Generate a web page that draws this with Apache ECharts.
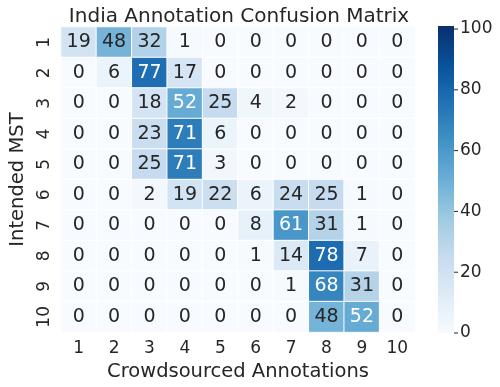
<!DOCTYPE html>
<html>
<head>
<meta charset="utf-8">
<title>India Annotation Confusion Matrix</title>
<style>
  html, body { margin: 0; padding: 0; background: #fff; }
  #chart { width: 500px; height: 387px; }
</style>
</head>
<body>
<div id="chart"></div>
<script src="https://cdn.jsdelivr.net/npm/echarts@6/dist/echarts.min.js"></script>
<script>
// categories
var xLabels = ['1', '2', '3', '4', '5', '6', '7', '8', '9', '10'];
var yLabels = ['1', '2', '3', '4', '5', '6', '7', '8', '9', '10'];

// one row per intended MST
var row1  = [19, 48, 32, 1, 0, 0, 0, 0, 0, 0];
var row2  = [0, 6, 77, 17, 0, 0, 0, 0, 0, 0];
var row3  = [0, 0, 18, 52, 25, 4, 2, 0, 0, 0];
var row4  = [0, 0, 23, 71, 6, 0, 0, 0, 0, 0];
var row5  = [0, 0, 25, 71, 3, 0, 0, 0, 0, 0];
var row6  = [0, 0, 2, 19, 22, 6, 24, 25, 1, 0];
var row7  = [0, 0, 0, 0, 0, 8, 61, 31, 1, 0];
var row8  = [0, 0, 0, 0, 0, 1, 14, 78, 7, 0];
var row9  = [0, 0, 0, 0, 0, 0, 1, 68, 31, 0];
var row10 = [0, 0, 0, 0, 0, 0, 0, 48, 52, 0];
var rows = [row1, row2, row3, row4, row5, row6, row7, row8, row9, row10];

var colorTicks = [0, 20, 40, 60, 80, 100];

var data = [];
for (var i = 0; i < rows.length; i++) {
  for (var j = 0; j < rows[i].length; j++) {
    var v = rows[i][j];
    data.push({
      value: [j, i, v],
      label: { color: v > 50 ? '#ffffff' : '#262626' }
    });
  }
}

var blues = ['#f7fbff', '#deebf7', '#c6dbef', '#9ecae1', '#6baed6', '#4292c6', '#2171b5', '#08519c', '#08306b'];
var vmax = 101;

var myChart = echarts.init(document.getElementById('chart'));

// colorbar drawn with graphic elements
var cbTop = 26, cbBottom = 333, cbLeft = 438, cbWidth = 16;
var graphics = [{
  type: 'rect',
  shape: { x: cbLeft, y: cbTop, width: cbWidth, height: cbBottom - cbTop },
  style: {
    fill: new echarts.graphic.LinearGradient(0, 1, 0, 0, blues.map(function (c, k) {
      return { offset: k / (blues.length - 1), color: c };
    }))
  },
  silent: true
}];
colorTicks.forEach(function (t) {
  var y = cbBottom - (t / vmax) * (cbBottom - cbTop);
  graphics.push({
    type: 'line',
    shape: { x1: cbLeft + cbWidth, y1: y, x2: cbLeft + cbWidth + 4, y2: y },
    style: { stroke: '#262626', lineWidth: 1 },
    silent: true
  });
  graphics.push({
    type: 'text',
    x: cbLeft + cbWidth + 6,
    y: y,
    style: {
      text: String(t),
      fill: '#262626',
      font: '17px "DejaVu Sans"',
      textVerticalAlign: 'middle'
    },
    silent: true
  });
});

var option = {
  animation: false,
  textStyle: { fontFamily: 'DejaVu Sans' },
  title: {
    text: 'India Annotation Confusion Matrix',
    left: 234,
    textAlign: 'center',
    top: 2,
    textStyle: { fontSize: 20, fontWeight: 'normal', color: '#262626', fontFamily: 'DejaVu Sans' }
  },
  grid: { left: 53, right: 85, top: 27, bottom: 54 },
  xAxis: {
    type: 'category',
    data: xLabels,
    name: 'Crowdsourced Annotations',
    nameLocation: 'middle',
    nameGap: 28,
    nameTextStyle: { fontSize: 19.5, color: '#262626' },
    axisLine: { show: false },
    axisTick: { show: false },
    splitArea: { show: false },
    axisLabel: { fontSize: 17, color: '#262626', margin: 8 }
  },
  yAxis: {
    type: 'category',
    data: yLabels,
    inverse: true,
    name: 'Intended MST',
    nameLocation: 'middle',
    nameGap: 33,
    nameTextStyle: { fontSize: 19.5, color: '#262626' },
    axisLine: { show: false },
    axisTick: { show: false },
    axisLabel: { fontSize: 17, color: '#262626', rotate: 90, margin: 8 }
  },
  visualMap: {
    show: false,
    min: 0,
    max: vmax,
    dimension: 2,
    inRange: { color: blues }
  },
  graphic: graphics,
  series: [{
    type: 'heatmap',
    data: data,
    itemStyle: { borderColor: '#ffffff', borderWidth: 1 },
    label: { show: true, fontSize: 19, fontFamily: 'DejaVu Sans' },
    emphasis: { disabled: true }
  }]
};

myChart.setOption(option);
</script>
</body>
</html>
